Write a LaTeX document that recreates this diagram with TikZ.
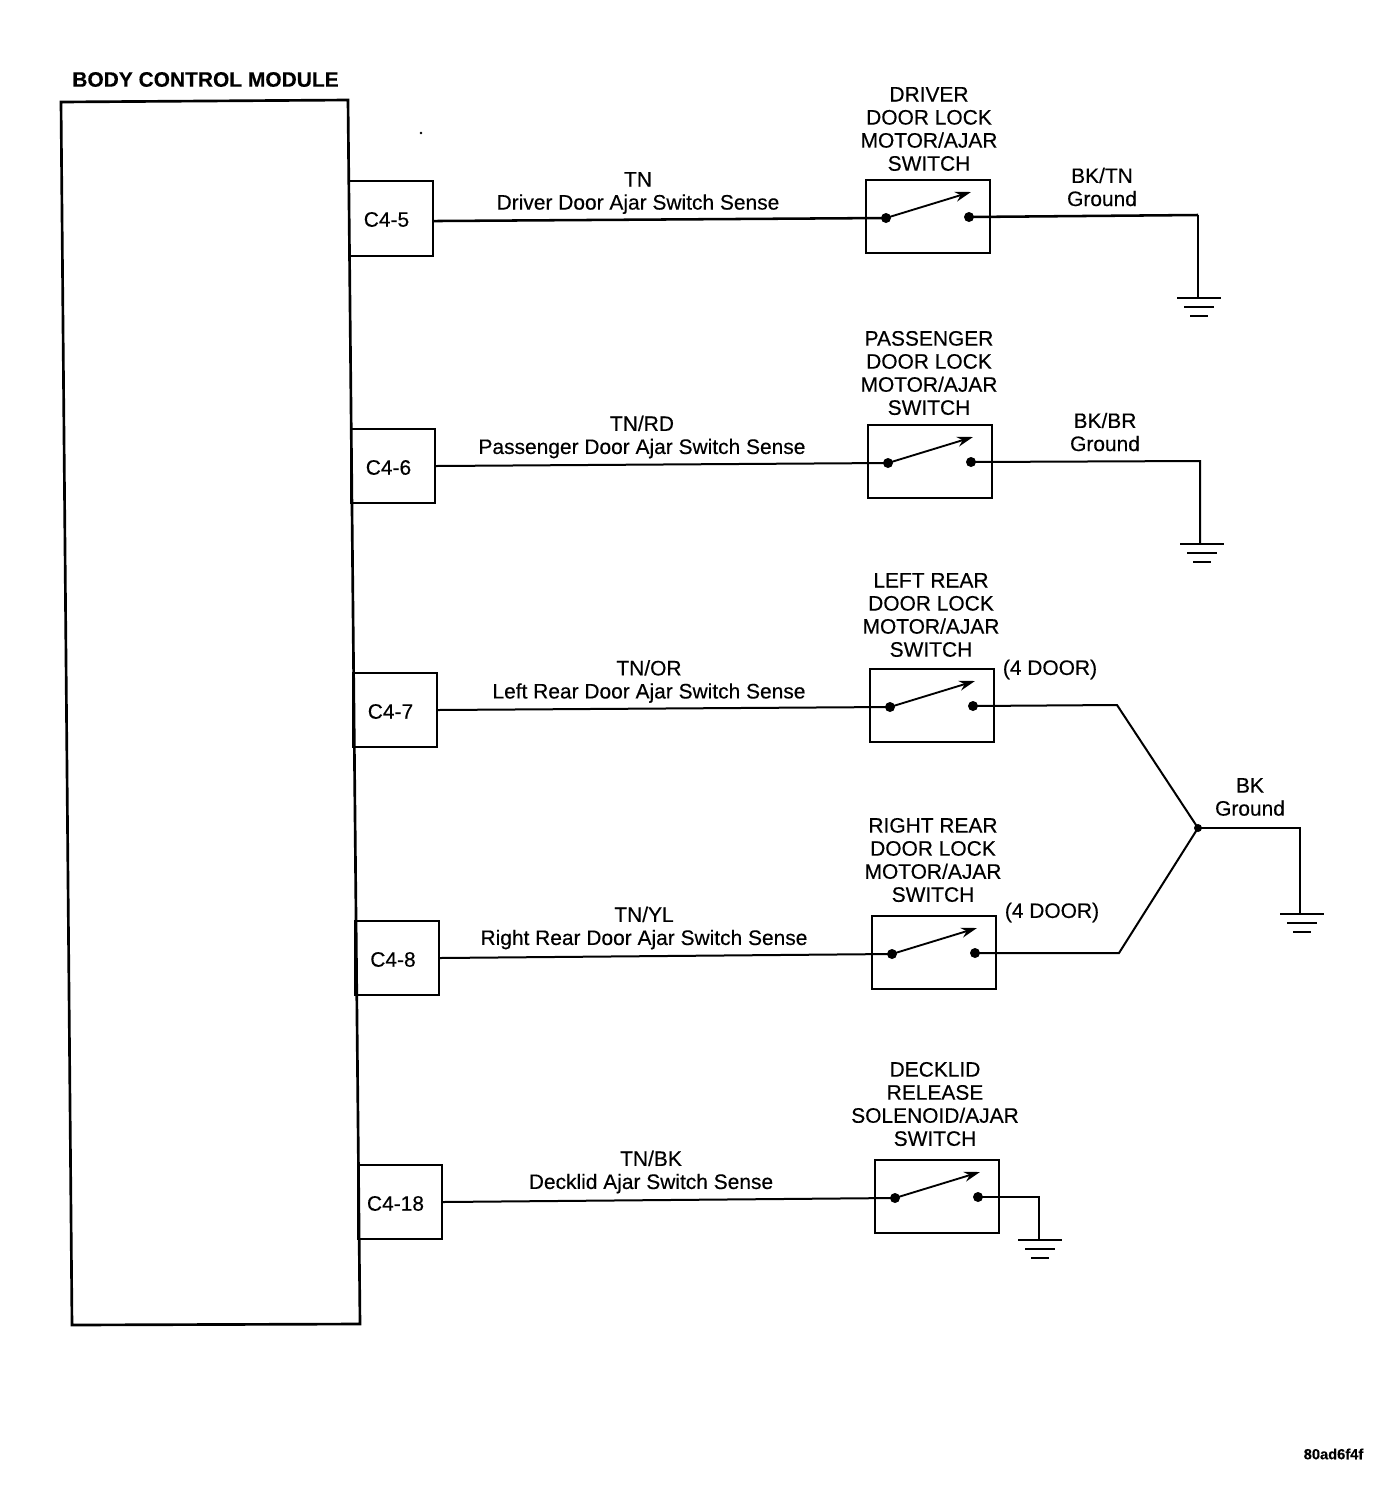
\documentclass[tikz,border=0pt]{standalone}
\usepackage{fontspec}
\setmainfont{Liberation Sans}[FakeBold=0.35]
\usetikzlibrary{arrows.meta}
\tikzset{
  wire/.style={line width=1.5pt},
  thick wire/.style={line width=1.9pt},
  thin wire/.style={line width=1.2pt},
  pinbox/.style={draw,line width=1.4pt,minimum width=63pt,minimum height=56pt,inner sep=0pt},
  pintext/.style={inner sep=0pt,font=\fontsize{15.7}{15.7}\selectfont},
  switchbox/.style={draw,line width=1.5pt,minimum width=93.5pt,minimum height=55pt,inner sep=0pt},
  contact/.style={circle,fill=black,draw=none,minimum size=7.5pt,inner sep=0pt},
  lever/.style={line width=1.4pt,-{Stealth[length=12pt,width=7.5pt]}},
  label/.style={align=center,inner sep=0pt,font=\fontsize{15.7}{17.3}\selectfont},
  gnd/.style={line width=1.1pt}
}
\newcommand{\grnd}[2]{%
  \draw[gnd] (#1-22,#2) -- (#1+22,#2);
  \draw[gnd] (#1-15,#2+9) -- (#1+15,#2+9);
  \draw[gnd,line width=1.4pt] (#1-9,#2+18) -- (#1+9,#2+18);}
\newcommand{\sw}[3]{% name, left-top x, y
  \node[switchbox] (#1) at (#2+62,#3+36.5) {};
  \node[contact] (#1L) at (#2+20,#3+38) {};
  \node[contact] (#1R) at (#2+103,#3+37) {};
  \coordinate (#1T) at (#2+105,#3+12);
  \draw[lever] (#1L.center) -- (#1T);}
\begin{document}
\begin{tikzpicture}[x=0.75pt,y=-0.75pt]
\useasboundingbox (0,0) rectangle (1392,1486);
% module
\draw[line width=2pt] (61,102) -- (348,100) -- (360,1324) -- (72,1325) -- cycle;
\node[font=\bfseries\fontsize{15.7}{15.7}\selectfont,inner sep=0pt] (bcm) at (205.5,79.5) {BODY CONTROL MODULE};
\fill (421,133) circle (1.1pt);
% pins
\node[pinbox] (p5) at (391,218.5) {}; \node[pintext] (t5) at (386.5,219.5) {C4-5};
\node[pinbox] (p6) at (393,466) {}; \node[pintext] (t6) at (388.5,467.5) {C4-6};
\node[pinbox] (p7) at (395,710) {}; \node[pintext] (t7) at (390.5,711.5) {C4-7};
\node[pinbox] (p8) at (397,958) {}; \node[pintext] (t8) at (393,959.5) {C4-8};
\node[pinbox] (p18) at (400,1202) {}; \node[pintext] (t18) at (395.5,1203.5) {C4-18};
% switches
\sw{sa}{866}{180}
\sw{sb}{868}{425}
\sw{sc}{870}{669}
\sw{sd}{872}{916}
\sw{se}{875}{1160}
% wires
\coordinate (ga) at (1198,215); \coordinate (gaa) at (1198,298);
\coordinate (gb) at (1200,461); \coordinate (gbb) at (1200,544);
\coordinate (ca) at (1117,705); \coordinate (cb) at (1119,953);
\node[contact,minimum size=6pt] (j) at (1198,828) {};
\coordinate (gc) at (1300,828); \coordinate (gcc) at (1300,914);
\coordinate (ge) at (1039,1197); \coordinate (gee) at (1039,1240);
\draw[thick wire] ([yshift=-1.9pt]p5.east) -- (saL.center);
\draw[thick wire] (saR.center) -- (ga);
\draw[thin wire] (ga) -- (gaa);
\draw[wire] (p6.east) -- (sbL.center);
\draw[wire] (sbR.center) -- (gb) -- (gbb);
\draw[wire] (p7.east) -- (scL.center);
\draw[wire] (scR.center) -- (ca) -- (j.center);
\draw[wire] (p8.east) -- (sdL.center);
\draw[wire] (sdR.center) -- (cb) -- (j.center);
\draw[wire] (j.center) -- (gc) -- (gcc);
\draw[wire] (p18.east) -- (seL.center);
\draw[wire] (seR.center) -- (ge) -- (gee);
\grnd{1199}{298}
\grnd{1202}{544}
\grnd{1302}{914}
\grnd{1040}{1240}
% labels
\node[label] (la) at (638,193) {TN\\Driver Door Ajar Switch Sense};
\node[label] (lb) at (642,437) {TN/RD\\Passenger Door Ajar Switch Sense};
\node[label] (lc) at (649,681.5) {TN/OR\\Left Rear Door Ajar Switch Sense};
\node[label] (ld) at (644,928) {TN/YL\\Right Rear Door Ajar Switch Sense};
\node[label] (le) at (651,1172) {TN/BK\\Decklid Ajar Switch Sense};
\node[label] (na) at (929,129) {DRIVER\\DOOR LOCK\\MOTOR/AJAR\\SWITCH};
\node[label] (nb) at (929,373) {PASSENGER\\DOOR LOCK\\MOTOR/AJAR\\SWITCH};
\node[label] (nc) at (931,615) {LEFT REAR\\DOOR LOCK\\MOTOR/AJAR\\SWITCH};
\node[label] (nd) at (933,860) {RIGHT REAR\\DOOR LOCK\\MOTOR/AJAR\\SWITCH};
\node[label] (ne) at (935,1104) {DECKLID\\RELEASE\\SOLENOID/AJAR\\SWITCH};
\node[label] (ra) at (1102,187) {BK/TN\\Ground};
\node[label] (rb) at (1105,432) {BK/BR\\Ground};
\node[label] (rc) at (1250,797) {BK\\Ground};
\node[label] (d1) at (1050,669.5) {(4 DOOR)};
\node[label] (d2) at (1052,912.5) {(4 DOOR)};
\node[font=\bfseries\fontsize{11}{11}\selectfont,inner sep=0pt] (code) at (1333.5,1454) {80ad6f4f};
\end{tikzpicture}
\end{document}
